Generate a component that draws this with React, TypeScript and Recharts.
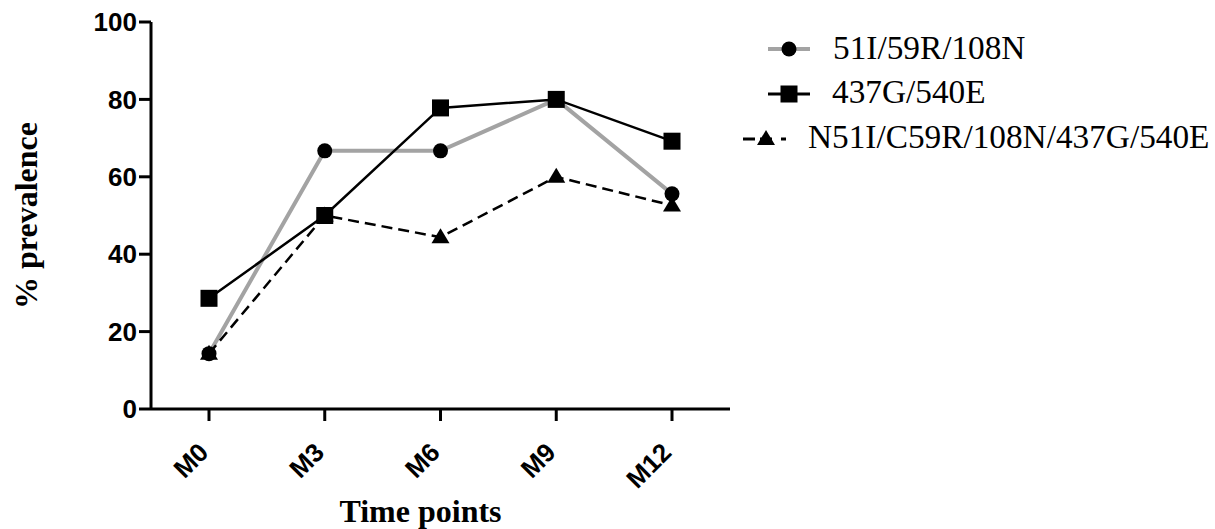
import React from 'react';
import { LineChart, Line, XAxis, YAxis } from 'recharts';

const categories = ['M0', 'M3', 'M6', 'M9', 'M12'];
const tripleMutant = [14.3, 66.7, 66.7, 80, 55.6];
const doubleMutant = [28.6, 50, 77.8, 80, 69.2];
const quintupleMutant = [14.3, 50, 44.4, 60, 52.6];
const yTicks = [0, 20, 40, 60, 80, 100];
const seriesNames = ['51I/59R/108N', '437G/540E', 'N51I/C59R/108N/437G/540E'];

const data = categories.map((c, i) => ({
  time: c,
  s1: tripleMutant[i],
  s2: doubleMutant[i],
  s3: quintupleMutant[i],
}));

const GRAY = '#a3a3a3';
const SANS = '"Liberation Sans", Arial, sans-serif';
const SERIF = '"Liberation Serif", "Times New Roman", serif';

const CircleDot = (p: any) => {
  if (p.cx == null || p.cy == null) return <g key={p.index} />;
  return <circle key={`c${p.index}`} cx={p.cx} cy={p.cy} r={7.5} fill="#000" />;
};
const SquareDot = (p: any) => {
  if (p.cx == null || p.cy == null) return <g key={p.index} />;
  return <rect key={`s${p.index}`} x={p.cx - 8.5} y={p.cy - 8.5} width={17} height={17} fill="#000" />;
};
const TriDot = (p: any) => {
  if (p.cx == null || p.cy == null) return <g key={p.index} />;
  const { cx, cy } = p;
  return (
    <polygon
      key={`t${p.index}`}
      points={`${cx},${cy - 9} ${cx + 9},${cy + 6} ${cx - 9},${cy + 6}`}
      fill="#000"
    />
  );
};

const XTick = (props: any) => {
  const { x, y, payload } = props;
  const ax = x + 1;
  const ay = y + 31;
  return (
    <text
      x={ax}
      y={ay}
      transform={`rotate(-45 ${ax} ${ay})`}
      textAnchor="end"
      fontFamily={SANS}
      fontWeight="bold"
      fontSize={26}
      fill="#000"
    >
      {payload.value}
    </text>
  );
};

const YLabel = (props: any) => {
  const vb = props.viewBox || { x: 0, y: 22, width: 151, height: 387 };
  const cy = vb.y + vb.height / 2;
  return (
    <text
      transform={`translate(26 ${cy}) rotate(-90)`}
      textAnchor="middle"
      dominantBaseline="central"
      fontFamily={SERIF}
      fontWeight="bold"
      fontSize={32}
      fill="#000"
    >
      % prevalence
    </text>
  );
};

const LegendOverlay = () => (
  <svg
    width={1215}
    height={529}
    style={{ position: 'absolute', left: 0, top: 0, pointerEvents: 'none' }}
  >
    <line x1={768} y1={49} x2={810} y2={49} stroke={GRAY} strokeWidth={4} />
    <circle cx={789} cy={49} r={7.5} fill="#000" />
    <text x={833} y={59} fontFamily={SERIF} fontSize={33.3} fill="#000">{seriesNames[0]}</text>

    <line x1={768} y1={94} x2={810} y2={94} stroke="#000" strokeWidth={3} />
    <rect x={780.5} y={85.5} width={17} height={17} fill="#000" />
    <text x={832} y={103} fontFamily={SERIF} fontSize={33.3} fill="#000">{seriesNames[1]}</text>

    <line x1={743} y1={139} x2={786} y2={139} stroke="#000" strokeWidth={3} strokeDasharray="12 5 12 9" />
    <polygon points="766,130 775,145 757,145" fill="#000" />
    <text x={808} y={148} fontFamily={SERIF} fontSize={33.3} fill="#000">{seriesNames[2]}</text>
  </svg>
);

export default function App() {
  return (
    <div style={{ position: 'absolute', left: 0, top: 0, width: 1215, height: 529, background: '#fff' }}>
      <LineChart
        width={1215}
        height={529}
        data={data}
        margin={{ top: 22, right: 485, bottom: 0, left: 0 }}
      >
        <XAxis
          dataKey="time"
          height={120}
          padding={{ left: 58, right: 58 }}
          tickSize={12}
          tickMargin={2}
          axisLine={{ stroke: '#000', strokeWidth: 3 }}
          tickLine={{ stroke: '#000', strokeWidth: 3 }}
          tick={<XTick />}
          interval={0}
          label={{
            value: 'Time points',
            position: 'insideBottom',
            offset: 7,
            dx: -20,
            fontFamily: SERIF,
            fontWeight: 'bold',
            fontSize: 32,
            fill: '#000',
          }}
        />
        <YAxis
          width={151}
          domain={[0, 100]}
          ticks={yTicks}
          interval={0}
          tickSize={12}
          tickMargin={2}
          axisLine={{ stroke: '#000', strokeWidth: 3 }}
          tickLine={{ stroke: '#000', strokeWidth: 3 }}
          tick={{ fontFamily: SANS, fontWeight: 'bold', fontSize: 26, fill: '#000' }}
          label={<YLabel />}
        />
        <Line
          dataKey="s1"
          name={seriesNames[0]}
          stroke={GRAY}
          strokeWidth={4}
          dot={CircleDot}
          activeDot={false}
          isAnimationActive={false}
        />
        <Line
          dataKey="s2"
          name={seriesNames[1]}
          stroke="#000"
          strokeWidth={2.5}
          dot={SquareDot}
          activeDot={false}
          isAnimationActive={false}
        />
        <Line
          dataKey="s3"
          name={seriesNames[2]}
          stroke="#000"
          strokeWidth={2.5}
          strokeDasharray="11 6"
          dot={TriDot}
          activeDot={false}
          isAnimationActive={false}
        />
      </LineChart>
      <LegendOverlay />
    </div>
  );
}
